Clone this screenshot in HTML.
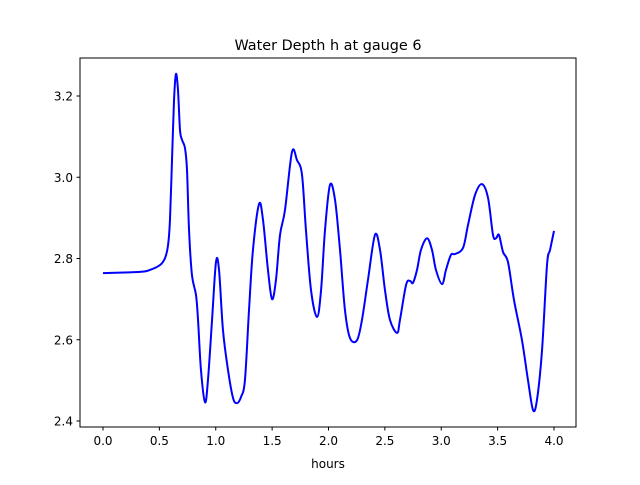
<!DOCTYPE html>
<html><head><meta charset="utf-8"><style>
body{margin:0;background:#fff}
text{font-family:"DejaVu Sans","Liberation Sans",sans-serif;fill:#000}
</style></head><body>
<svg id="chart" width="640" height="480" viewBox="0 0 640 480" xmlns="http://www.w3.org/2000/svg">
<rect width="640" height="480" fill="#fff"/>
<text x="328" y="50" text-anchor="middle" font-size="14.4">Water Depth h at gauge 6</text>
<text x="328" y="468" text-anchor="middle" font-size="12">hours</text>
<g id="ticks"></g>
<path id="series" fill="none" stroke="#0000ff" stroke-width="2" stroke-linejoin="round"/>
<rect x="80" y="58" width="496" height="369" fill="none" stroke="#000" stroke-width="1"/>
</svg>
<script>
const hours=[0,0.328,0.417,0.506,0.550,0.577,0.594,0.612,0.630,0.647,0.665,0.683,0.701,0.727,0.745,0.763,0.789,0.825,0.843,0.869,0.905,0.931,0.967,1.002,1.029,1.064,1.109,1.153,1.188,1.224,1.259,1.295,1.330,1.384,1.419,1.463,1.499,1.534,1.570,1.614,1.676,1.721,1.765,1.800,1.845,1.898,1.934,1.969,2.013,2.058,2.102,2.146,2.191,2.253,2.297,2.350,2.412,2.457,2.501,2.545,2.608,2.634,2.688,2.723,2.749,2.785,2.820,2.874,2.918,2.953,3.007,3.042,3.086,3.122,3.193,3.237,3.299,3.361,3.415,3.459,3.486,3.512,3.548,3.592,3.645,3.716,3.769,3.814,3.849,3.894,3.938,3.965,4.0];
const depth=[2.764,2.767,2.772,2.784,2.801,2.833,2.895,3.042,3.190,3.254,3.215,3.116,3.092,3.072,3.018,2.870,2.759,2.710,2.648,2.525,2.446,2.501,2.648,2.791,2.772,2.624,2.525,2.457,2.444,2.459,2.501,2.673,2.821,2.934,2.895,2.772,2.700,2.747,2.858,2.919,3.062,3.042,3.006,2.870,2.722,2.656,2.722,2.870,2.981,2.944,2.821,2.673,2.604,2.599,2.649,2.747,2.858,2.821,2.722,2.649,2.617,2.649,2.735,2.745,2.740,2.772,2.821,2.850,2.821,2.772,2.737,2.772,2.809,2.811,2.826,2.882,2.956,2.983,2.949,2.858,2.850,2.858,2.816,2.791,2.698,2.599,2.501,2.427,2.452,2.575,2.784,2.821,2.868];
const xTicks=[0,0.5,1,1.5,2,2.5,3,3.5,4];
const xTickLabels=["0.0","0.5","1.0","1.5","2.0","2.5","3.0","3.5","4.0"];
const yTicks=[2.4,2.6,2.8,3.0,3.2];
const yTickLabels=["2.4","2.6","2.8","3.0","3.2"];
const sx=h=>103+h*112.75;
const sy=v=>421-(v-2.4)*406.25;
const NS="http://www.w3.org/2000/svg";
const g=document.getElementById('ticks');
xTicks.forEach((t,i)=>{
  const l=document.createElementNS(NS,'line');
  
  
  l.setAttribute('x1',sx(t));l.setAttribute('x2',sx(t));l.setAttribute('y1',427);l.setAttribute('y2',430.5);l.setAttribute('stroke','#000');
  g.appendChild(l);
  const tx=document.createElementNS(NS,'text');
  
  
  tx.setAttribute('x',sx(t));tx.setAttribute('y',445);tx.setAttribute('text-anchor','middle');tx.setAttribute('font-size','12');
  tx.textContent=xTickLabels[i];g.appendChild(tx);
});
yTicks.forEach((t,i)=>{
  const l=document.createElementNS(NS,'line');
  
  
  l.setAttribute('x1',76.5);l.setAttribute('x2',80);l.setAttribute('y1',sy(t));l.setAttribute('y2',sy(t));l.setAttribute('stroke','#000');
  g.appendChild(l);
  const tx=document.createElementNS(NS,'text');
  
  
  tx.setAttribute('x',73);tx.setAttribute('y',sy(t)+4.5);tx.setAttribute('text-anchor','end');tx.setAttribute('font-size','12');
  tx.textContent=yTickLabels[i];g.appendChild(tx);
});
const P=hours.map((h,i)=>[sx(h),sy(depth[i])]);
let d='M'+P[0][0]+','+P[0][1];
for(let i=0;i<P.length-1;i++){
  const p0=P[Math.max(0,i-1)],p1=P[i],p2=P[i+1],p3=P[Math.min(P.length-1,i+2)];
  const c1=[p1[0]+(p2[0]-p0[0])/6,p1[1]+(p2[1]-p0[1])/6];
  const c2=[p2[0]-(p3[0]-p1[0])/6,p2[1]-(p3[1]-p1[1])/6];
  d+=' C'+c1.join(',')+' '+c2.join(',')+' '+p2.join(',');
}
document.getElementById('series').setAttribute('d',d);
</script>
</body></html>
